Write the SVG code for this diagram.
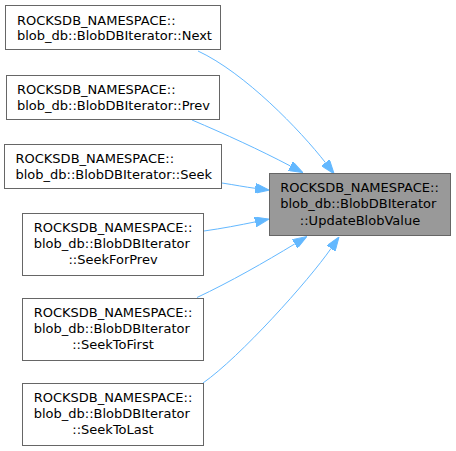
<svg xmlns="http://www.w3.org/2000/svg" width="456" height="451" viewBox="0 0 456 451">
<style>
.box{fill:#ffffff;stroke:#666666;stroke-width:1}
.focus{fill:#999999;stroke:#666666;stroke-width:1}
text{font-family:"DejaVu Sans","Noto Sans",sans-serif;font-size:13px;fill:#000000}
.c{text-anchor:middle}
.edge{fill:none;stroke:#63b8ff;stroke-width:1}
</style>
<defs>
<marker id="arr" markerUnits="userSpaceOnUse" viewBox="0 0 14 10" refX="0" refY="5" markerWidth="14" markerHeight="10" orient="auto">
<path d="M0,0 L14,5 L0,10 z" fill="#63b8ff" stroke="#63b8ff" stroke-width="1"/>
</marker>
</defs>
<rect width="456" height="451" fill="#ffffff"/>
<g id="edges">
<path class="edge" marker-end="url(#arr)" d="M198,51 C245,73 300,130 325.5,162.7"/>
<path class="edge" marker-end="url(#arr)" d="M192,120 C225,134 260,150 290.4,166"/>
<path class="edge" marker-end="url(#arr)" d="M222,183 C235,185 245,187 255.2,188.3"/>
<path class="edge" marker-end="url(#arr)" d="M204,231 C222,228.5 240,225 255.2,221.9"/>
<path class="edge" marker-end="url(#arr)" d="M197,297.5 C230,282 265,262 294.8,243.9"/>
<path class="edge" marker-end="url(#arr)" d="M203,383 C240,357 308.2,281.3 331,248.5"/>
</g>
<g id="node-next">
<rect class="box" x="5.5" y="5.5" width="215" height="44"/>
<text x="17" y="24.5">ROCKSDB_NAMESPACE::</text>
<text x="17" y="40">blob_db::BlobDBIterator::Next</text>
</g>
<g id="node-prev">
<rect class="box" x="6.5" y="75.5" width="213" height="44"/>
<text x="17" y="94">ROCKSDB_NAMESPACE::</text>
<text x="17" y="109.5">blob_db::BlobDBIterator::Prev</text>
</g>
<g id="node-seek">
<rect class="box" x="4.5" y="144.5" width="217" height="44"/>
<text x="15.5" y="163">ROCKSDB_NAMESPACE::</text>
<text x="15.5" y="178.5">blob_db::BlobDBIterator::Seek</text>
</g>
<g id="node-seekforprev">
<rect class="box" x="22.5" y="213.5" width="181" height="62"/>
<text x="33.7" y="232">ROCKSDB_NAMESPACE::</text>
<text x="33.7" y="248">blob_db::BlobDBIterator</text>
<text class="c" x="113" y="264">::SeekForPrev</text>
</g>
<g id="node-seektofirst">
<rect class="box" x="22.5" y="298.5" width="181" height="62"/>
<text x="33.7" y="317">ROCKSDB_NAMESPACE::</text>
<text x="33.7" y="333">blob_db::BlobDBIterator</text>
<text class="c" x="113" y="349">::SeekToFirst</text>
</g>
<g id="node-seektolast">
<rect class="box" x="22.5" y="383.5" width="181" height="62"/>
<text x="33.7" y="402">ROCKSDB_NAMESPACE::</text>
<text x="33.7" y="418">blob_db::BlobDBIterator</text>
<text class="c" x="113" y="434">::SeekToLast</text>
</g>
<g id="node-updateblobvalue">
<rect class="focus" x="269.5" y="173.5" width="181" height="62"/>
<text x="280.2" y="192">ROCKSDB_NAMESPACE::</text>
<text x="280.2" y="208">blob_db::BlobDBIterator</text>
<text class="c" x="360" y="224.5">::UpdateBlobValue</text>
</g>
</svg>
